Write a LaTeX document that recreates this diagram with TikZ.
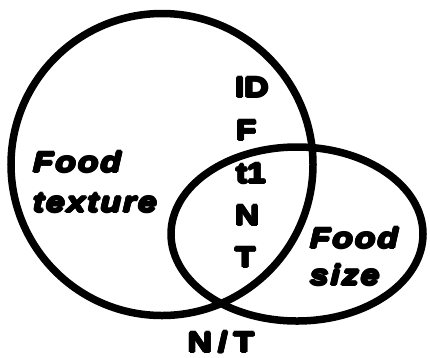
\documentclass[tikz,border=0pt]{standalone}
\usepackage{fontspec}
\newfontfamily\blk[FakeStretch=1.2]{Liberation Sans Bold}
\newfontfamily\blkw[FakeStretch=1.2,LetterSpace=22]{Liberation Sans Bold}
\newfontfamily\blki[FakeStretch=1.2,LetterSpace=7]{Liberation Sans Bold Italic}
\newsavebox\hvbox
\newcommand\hvshift[2]{\rlap{\kern#1\raisebox{#2}{\usebox\hvbox}}}
\newcommand\heavytext[1]{\sbox\hvbox{#1}\mbox{%
  \hvshift{-1.2pt}{0pt}\hvshift{1.2pt}{0pt}\hvshift{0pt}{1.2pt}\hvshift{0pt}{-1.2pt}%
  \hvshift{-0.85pt}{0.85pt}\hvshift{0.85pt}{0.85pt}\hvshift{-0.85pt}{-0.85pt}\hvshift{0.85pt}{-0.85pt}%
  \usebox\hvbox}}
\begin{document}
\begin{tikzpicture}[x=1pt,y=-1pt,
  ring/.style={draw=black,line width=7.5pt},
  lab/.style={inner sep=0pt,outer sep=0pt,anchor=base west,font=\blk\fontsize{28}{28}\selectfont},
  ilab/.style={inner sep=0pt,outer sep=0pt,anchor=base west,font=\blki\fontsize{28}{28}\selectfont}]
\useasboundingbox (0,0) rectangle (430,357);
\draw[ring] (162,164.5) circle [radius=151pt];
\draw[ring] (297,234) ellipse [x radius=126pt, y radius=87pt];
\node[lab] (id) at (235,97) {\heavytext{ID}};
\node[lab] (f) at (236,140) {\heavytext{F}};
\node[lab] (t1) at (236,183) {\heavytext{t1}};
\node[lab] (n) at (235,225) {\heavytext{N}};
\node[lab] (t) at (235,267) {\heavytext{T}};
\node[ilab] (food1) at (33,172) {\heavytext{Food}};
\node[ilab] (texture) at (33,212) {\heavytext{texture}};
\node[ilab] (food2) at (310,248) {\heavytext{Food}};
\node[ilab] (size) at (310,285) {\heavytext{size}};
\node[inner sep=0pt,outer sep=0pt,anchor=base,font=\blkw\fontsize{28}{28}\selectfont] (nt) at (221,352) {\heavytext{N/T}};
\end{tikzpicture}
\end{document}
